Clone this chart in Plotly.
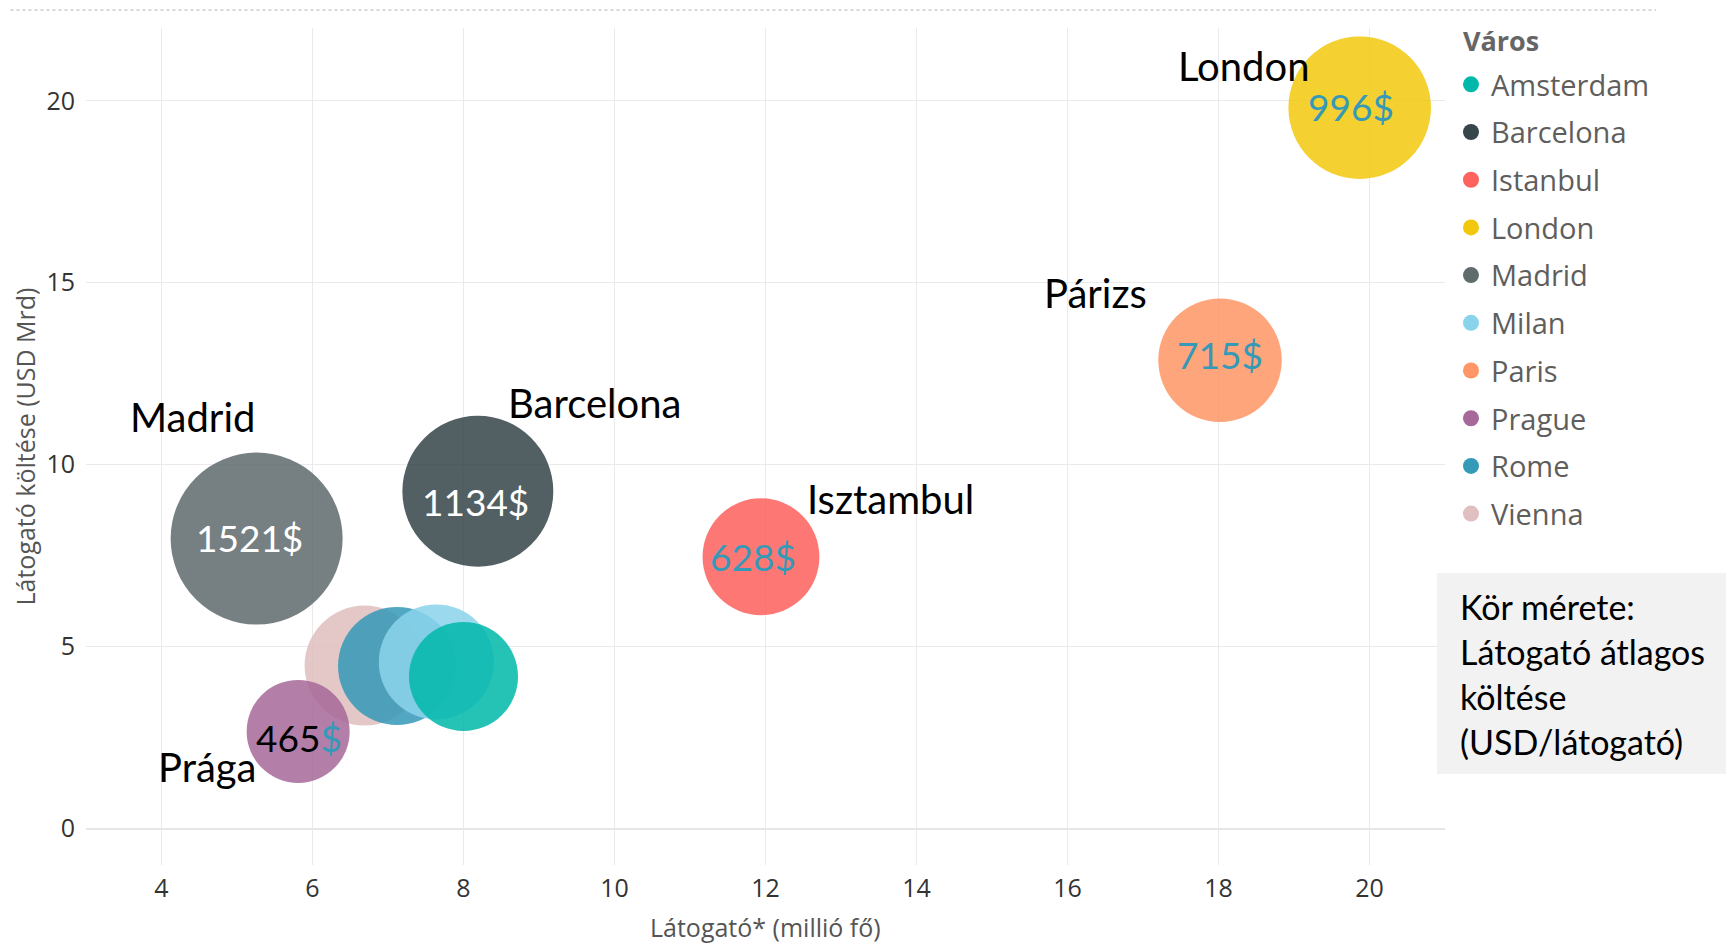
import math
import plotly.graph_objects as go

# Városok (legend order) and their values
cities = ["Amsterdam", "Barcelona", "Istanbul", "London", "Madrid",
          "Milan", "Paris", "Prague", "Rome", "Vienna"]
visitors = [8.00, 8.19, 11.94, 19.87, 5.26, 7.64, 18.02, 5.81, 7.12, 6.69]   # millió fő
spend = [4.18, 9.27, 7.47, 19.81, 7.97, 4.58, 12.87, 2.67, 4.47, 4.48]      # USD Mrd
avg_spend = [533, 1134, 628, 996, 1521, 605, 715, 465, 643, 669]           # USD/látogató
colors = ["#01B8AA", "#374649", "#FD625E", "#F2C80F", "#5F6B6D",
          "#8AD4EB", "#FE9666", "#A66999", "#3599B8", "#DFBFBF"]

# value labels inside some bubbles: text, colour, pixel nudge (dx, dy)
value_labels = {
    "Barcelona": ("1134$", "white", (-2, -10)),
    "Istanbul": ("628$", "#3599B8", (-8, 0)),
    "London": ("996$", "#3599B8", (-9, 1)),
    "Madrid": ("1521$", "white", (-7, 1)),
    "Paris": ("715$", "#3599B8", (0, 6)),
    "Prague": ("465<span style='color:#3599B8'>$</span>", "black", (1, -6)),
}

# Hungarian city captions: (text, x, y) in data units
city_captions = [
    ("London", 18.33, 20.95),
    ("Párizs", 16.37, 14.73),
    ("Isztambul", 13.65, 9.06),
    ("Barcelona", 9.73, 11.70),
    ("Madrid", 4.41, 11.30),
    ("Prága", 4.60, 1.70),
]

note_lines = ["Kör mérete:", "Látogató átlagos", "költése", "(USD/látogató)"]

# bubble diameter scale (px) ~ linear in sqrt(value), like the Power BI original
SIZE_MIN = 17.7
SIZE_K = 3.956

LABEL_FONT = "Lato, 'Open Sans', sans-serif"
UI_FONT = "'Open Sans', 'Noto Sans', sans-serif"

fig = go.Figure()

# bubbles, drawn in reverse so the smaller ones end up on top
for i in reversed(range(len(cities))):
    name = cities[i]
    fig.add_trace(go.Scatter(
        x=[visitors[i]], y=[spend[i]],
        mode="markers",
        name=name,
        showlegend=False,
        marker=dict(
            size=[SIZE_MIN + SIZE_K * math.sqrt(avg_spend[i])],
            sizemode="diameter",
            color=colors[i],
            opacity=0.86,
            line=dict(width=0),
        ),
        hovertemplate=f"{name}<br>%{{x}} M látogató<br>%{{y}} USD Mrd"
                      f"<br>{avg_spend[i]} USD/látogató<extra></extra>",
    ))

# legend entries (solid dots, alphabetical)
for name, col in zip(cities, colors):
    fig.add_trace(go.Scatter(
        x=[None], y=[None], mode="markers", name=name, legendgroup=name,
        marker=dict(size=16, color=col), hoverinfo="skip",
    ))

# value labels on the bubbles
for i, name in enumerate(cities):
    if name not in value_labels:
        continue
    txt, tcolor, (dx, dy) = value_labels[name]
    fig.add_annotation(x=visitors[i], y=spend[i], xref="x", yref="y", text=txt,
                       showarrow=False, xshift=dx, yshift=dy,
                       font=dict(family=LABEL_FONT, size=37, color=tcolor))

for text, x, y in city_captions:
    fig.add_annotation(x=x, y=y, xref="x", yref="y", text=text, showarrow=False,
                       font=dict(family=LABEL_FONT, size=40, color="black"))

# x axis title (placed by hand, standoff is ignored without automargin)
fig.add_annotation(xref="paper", yref="paper", x=0.5, y=-0.0735,
                   xanchor="center", yanchor="middle", showarrow=False,
                   text="Látogató* (millió fő)",
                   font=dict(family=UI_FONT, size=25, color="#555555"))

# legend title
fig.add_annotation(xref="paper", yref="paper", x=1.0118, y=0.9845,
                   xanchor="left", yanchor="middle", showarrow=False,
                   text="<b>Város</b>",
                   font=dict(family=UI_FONT, size=27, color="#666666"))

# grey note box on the right
fig.add_shape(type="rect", xref="paper", yref="paper",
              x0=0.9941, x1=1.22, y0=0.1087, y1=0.3489,
              fillcolor="#F2F2F2", line=dict(width=0), layer="above")
for k, line in enumerate(note_lines):
    fig.add_annotation(xref="paper", yref="paper", x=1.0096, y=0.3086 - k * 0.0538,
                       xanchor="left", yanchor="middle", text=line, showarrow=False,
                       font=dict(family=LABEL_FONT, size=34, color="black"))

# dotted line along the top
fig.add_shape(type="line", xref="paper", yref="paper",
              x0=-0.06, x1=1.1553, y0=1.0215, y1=1.0215,
              line=dict(color="#B0B0B0", width=1, dash="dot"))

# the page body keeps an 8px margin, so the figure is 8px smaller than the window
fig.update_layout(
    width=1726, height=936,
    margin=dict(l=78, r=289, t=20, b=79, autoexpand=False),
    paper_bgcolor="white",
    plot_bgcolor="white",
    font=dict(family=UI_FONT, color="#333333"),
    showlegend=True,
    legend=dict(
        font=dict(family=UI_FONT, size=29, color="#605E5C"),
        traceorder="grouped",
        tracegroupgap=7,
        x=1.0044, xanchor="left",
        y=0.963, yanchor="top",
        bgcolor="rgba(0,0,0,0)",
    ),
    xaxis=dict(
        range=[3, 21],
        dtick=2,
        tick0=0,
        automargin=False,
        showgrid=True, gridcolor="#EAEAEA", gridwidth=1,
        zeroline=False, showline=False,
        tickfont=dict(size=25, color="#333333"),
        ticklabelstandoff=6,
    ),
    yaxis=dict(
        range=[-1, 22],
        dtick=5,
        tick0=0,
        automargin=False,
        showgrid=True, gridcolor="#EAEAEA", gridwidth=1,
        zeroline=True, zerolinecolor="#E6E6E6", zerolinewidth=2,
        showline=False,
        tickfont=dict(size=25, color="#333333"),
        ticklabelstandoff=10,
        title=dict(text="Látogató költése (USD Mrd)", font=dict(size=25, color="#555555"), standoff=9),
    ),
)

fig.write_html("out.html")
